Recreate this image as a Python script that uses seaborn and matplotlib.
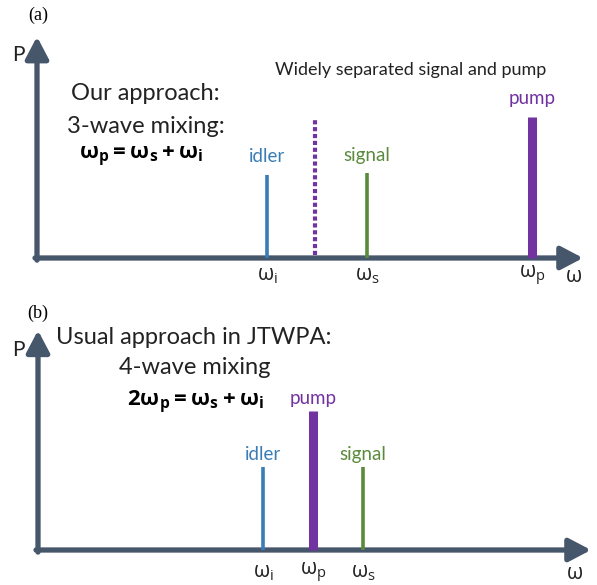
import matplotlib
matplotlib.use("Agg")
import matplotlib.pyplot as plt
import seaborn as sns

sns.set_theme(style="white")
plt.rcParams["font.family"] = ["Lato", "DejaVu Sans"]
plt.rcParams["mathtext.fontset"] = "custom"
plt.rcParams["mathtext.rm"] = "Open Sans"
plt.rcParams["mathtext.it"] = "Open Sans"
plt.rcParams["mathtext.bf"] = "Open Sans:bold"

# ── Data (frequency in arbitrary units, power normalised to the pump) ─────────
NAMES_A = ["idler", "signal", "pump"]
FREQ_A = [4.6, 6.6, 9.9]
POWER_A = [0.59, 0.60, 1.0]
HALF_PUMP_A = 5.55
TICKS_A = [r"$\omega_\mathrm{i}$", r"$\omega_\mathrm{s}$", r"$\omega_\mathrm{p}$"]

NAMES_B = ["idler", "pump", "signal"]
FREQ_B = [4.5, 5.5, 6.5]
POWER_B = [0.6, 1.0, 0.6]
TICKS_B = [r"$\omega_\mathrm{i}$", r"$\omega_\mathrm{p}$", r"$\omega_\mathrm{s}$"]

COLORS = {"idler": "#3a7db6", "signal": "#5a8a3c", "pump": "#7232a0"}
WIDTHS = {"idler": 2.6, "signal": 2.6, "pump": 6.5}
AXIS_COLOR = "#46566b"
TEXT_COLOR = "#222222"


def draw_axes(ax, x_end, y_end):
    style = "-|>,head_length=0.95,head_width=0.5"
    ax.annotate("", xy=(x_end, 0), xytext=(-0.04, 0),
                arrowprops=dict(arrowstyle=style, lw=3.8, color=AXIS_COLOR,
                                mutation_scale=14, shrinkA=0, shrinkB=0))
    ax.annotate("", xy=(0, y_end), xytext=(0, -0.015),
                arrowprops=dict(arrowstyle=style, lw=3.8, color=AXIS_COLOR,
                                mutation_scale=14, shrinkA=0, shrinkB=0))


def draw_lines(ax, names, freqs, powers, label_dy):
    for name, f, p in zip(names, freqs, powers):
        ax.vlines(f, 0, p, color=COLORS[name], lw=WIDTHS[name],
                  capstyle="butt", zorder=3)
        ax.text(f, p + label_dy, name, color=COLORS[name], fontsize=13.5,
                ha="center", va="center")


def draw_ticks(ax, freqs, labels, y, omega_x):
    for f, lab in zip(freqs, labels):
        ax.text(f, y, lab, fontsize=15, ha="center", va="center", color=TEXT_COLOR)
    ax.text(omega_x, y, r"$\omega$", fontsize=15, ha="center", va="center",
            color=TEXT_COLOR)


fig = plt.figure(figsize=(5.97, 5.85), dpi=100)

# ── Panel (a): 3-wave mixing ──────────────────────────────────────────────────
ax_a = fig.add_axes([0, 1 - 290 / 585, 1, 290 / 585])
ax_a.set_xlim(-37 / 50, 560 / 50)
ax_a.set_ylim(-32 / 141, 258 / 141)
ax_a.axis("off")

draw_axes(ax_a, 10.92, 1.57)
ax_a.vlines(HALF_PUMP_A, 0.02, 0.98, color=COLORS["pump"], lw=3.0,
            linestyles=(0, (1.0, 0.65)), capstyle="butt", zorder=3)
draw_lines(ax_a, NAMES_A, FREQ_A, POWER_A, 0.13)
draw_ticks(ax_a, FREQ_A, TICKS_A, -0.125, 10.72)

ax_a.text(-0.38, 1.44, "P", fontsize=15, ha="center", va="center", color=TEXT_COLOR)
ax_a.text(0.02, 1.72, "(a)", fontsize=13, ha="center", va="center",
          family="Liberation Serif", color="black")
ax_a.text(7.48, 1.33, "Widely separated signal and pump", fontsize=13,
          ha="center", va="center", color=TEXT_COLOR)
ax_a.text(2.16, 1.17, "Our approach:", fontsize=17, ha="center", va="center",
          color=TEXT_COLOR)
ax_a.text(2.18, 0.93, "3-wave mixing:", fontsize=17, ha="center", va="center",
          color=TEXT_COLOR)
ax_a.text(2.08, 0.72, r"$\mathbf{\omega_p = \omega_s + \omega_i}$", fontsize=16,
          ha="center", va="center", color="black")

# ── Panel (b): 4-wave mixing ──────────────────────────────────────────────────
ax_b = fig.add_axes([0, 0, 1, 295 / 585])
ax_b.set_xlim(-38 / 50, 559 / 50)
ax_b.set_ylim(-35 / 139, 260 / 139)
ax_b.axis("off")

draw_axes(ax_b, 11.06, 1.58)
draw_lines(ax_b, NAMES_B, FREQ_B, POWER_B, 0.09)
draw_ticks(ax_b, FREQ_B, TICKS_B, -0.165, 10.72)

ax_b.text(-0.4, 1.44, "P", fontsize=15, ha="center", va="center", color=TEXT_COLOR)
ax_b.text(0.0, 1.705, "(b)", fontsize=13, ha="center", va="center",
          family="Liberation Serif", color="black")
ax_b.text(0.36, 1.53, "Usual approach in JTWPA:", fontsize=17, ha="left",
          va="center", color=TEXT_COLOR)
ax_b.text(1.62, 1.31, "4-wave mixing", fontsize=17, ha="left", va="center",
          color=TEXT_COLOR)
ax_b.text(1.78, 1.06, r"$\mathbf{2\omega_p = \omega_s + \omega_i}$", fontsize=16,
          ha="left", va="center", color="black")

fig.savefig("out.png", dpi=100)
